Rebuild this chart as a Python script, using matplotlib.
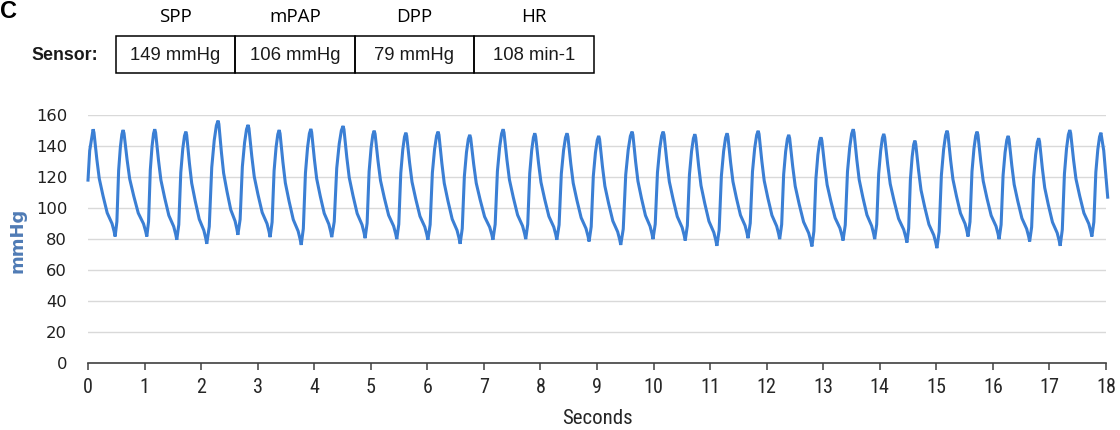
import matplotlib
matplotlib.use("Agg")
import matplotlib.pyplot as plt
from matplotlib.patches import Rectangle
from matplotlib import font_manager
import numpy as np

# ---------------- data ----------------
headers = ["SPP", "mPAP", "DPP", "HR"]
sensor_values = ["149 mmHg", "106 mmHg", "79 mmHg", "108 min-1"]
row_label = "Sensor:"
panel_label = "C"

# beat peaks (time in s, pressure in mmHg)
peak_t = [0.09, 0.62, 1.18, 1.73, 2.30, 2.83, 3.38, 3.94, 4.51, 5.06,
          5.62, 6.19, 6.75, 7.34, 7.90, 8.47, 9.03, 9.62, 10.17, 10.73,
          11.30, 11.85, 12.39, 12.96, 13.53, 14.07, 14.62, 15.19, 15.72,
          16.27, 16.81, 17.36, 17.91]
peak_v = [150.8, 150.3, 150.8, 149.3, 156.4, 153.6, 150.3, 151.0, 152.9, 149.9,
          148.6, 149.3, 147.2, 150.8, 148.2, 148.2, 146.5, 149.3, 149.3, 147.6,
          148.2, 149.8, 147.2, 145.6, 150.8, 147.8, 143.5, 149.9, 149.3,
          146.5, 145.0, 150.3, 148.6]
# beat troughs (end-diastole)
trough_t = [0.48, 1.04, 1.57, 2.10, 2.65, 3.22, 3.77, 4.31, 4.90, 5.46,
            6.01, 6.58, 7.16, 7.74, 8.29, 8.86, 9.42, 9.99, 10.56, 11.12,
            11.67, 12.23, 12.80, 13.35, 13.91, 14.48, 15.01, 15.56, 16.11,
            16.65, 17.19, 17.75]
trough_v = [81.6, 81.6, 79.5, 76.9, 82.7, 81.2, 76.2, 81.2, 80.5, 79.9,
            79.5, 76.9, 79.5, 79.9, 79.5, 78.4, 76.2, 79.9, 79.0, 75.6,
            80.5, 79.9, 75.2, 79.0, 79.9, 77.7, 74.1, 81.6, 79.9,
            78.4, 75.6, 81.6]
# start and end of the trace
start_t = [0.0, 0.03]
start_v = [118.0, 137.0]
end_t = [17.96, 18.00, 18.03]
end_v = [137.0, 120.0, 107.0]
# shape of one beat (time fraction, pressure fraction)
rise_tf = [0.22, 0.44, 0.66, 0.85]
rise_pf = [0.14, 0.62, 0.84, 0.96]
fall_tf = [0.04, 0.17, 0.28, 0.45, 0.64, 0.86, 0.95]
fall_pf = [0.97, 0.72, 0.54, 0.38, 0.22, 0.12, 0.05]

x_ticks = list(range(0, 19))
y_ticks = list(range(0, 161, 20))

# ---------------- assemble trace vertices ----------------
ts = list(start_t)
vs = list(start_v)
for i in range(len(peak_t)):
    ts.append(peak_t[i]); vs.append(peak_v[i])
    if i < len(trough_t):
        t0, v0 = peak_t[i], peak_v[i]
        t1, v1 = trough_t[i], trough_v[i]
        for tf, pf in zip(fall_tf, fall_pf):
            ts.append(t0 + tf * (t1 - t0)); vs.append(v1 + pf * (v0 - v1))
        ts.append(t1); vs.append(v1)
        t2, v2 = peak_t[i + 1], peak_v[i + 1]
        for tf, pf in zip(rise_tf, rise_pf):
            ts.append(t1 + tf * (t2 - t1)); vs.append(v1 + pf * (v2 - v1))
ts += end_t
vs += end_v

# narrow font for the time axis, if one is installed
names = {f.name for f in font_manager.fontManager.ttflist}
narrow = None
for cand in ["Liberation Sans Narrow", "Roboto Condensed", "Open Sans Condensed",
             "DejaVu Sans Condensed", "Noto Sans Condensed"]:
    if cand in names:
        narrow = cand
        break
cond_stretch = "normal"
if narrow is None:
    narrow = "DejaVu Sans"
    if any(f.name == "DejaVu Sans" and f.stretch == "condensed"
           for f in font_manager.fontManager.ttflist):
        cond_stretch = "condensed"

# ---------------- figure ----------------
fig = plt.figure(figsize=(11.2, 4.3), dpi=100)
ax = fig.add_axes([88 / 1120, 1 - 363 / 430, (1106 - 88) / 1120, (363 - 115) / 430])

ax.plot(ts, vs, color="#3b7fd4", lw=2.2, solid_joinstyle="miter", clip_on=False, zorder=3)

ax.set_xlim(0, 18)
ax.set_ylim(0, 160)
ax.set_yticks(y_ticks)
ax.set_xticks(x_ticks)
ax.grid(axis="y", color="#d9d9d9", lw=1.0)
ax.set_axisbelow(True)
for s in ["top", "right", "left"]:
    ax.spines[s].set_visible(False)
ax.spines["bottom"].set_color("#404040")
ax.spines["bottom"].set_linewidth(1.2)
ax.tick_params(axis="y", length=0, pad=15, labelsize=11.8, labelcolor="#1f1f1f")
ax.tick_params(axis="x", length=5, width=1.1, color="#404040", pad=6,
               labelsize=14.5, labelcolor="#262626")
for lab in ax.get_xticklabels():
    lab.set_family(narrow)
    lab.set_stretch(cond_stretch)

# ---------------- overlay in pixel coordinates ----------------
ov = fig.add_axes([0, 0, 1, 1], zorder=5)
ov.set_xlim(0, 1120)
ov.set_ylim(430, 0)
ov.axis("off")

ov.text(597, 419, "Seconds", fontsize=15, family=narrow, stretch=cond_stretch,
        ha="center", va="center", color="#262626")
ov.text(17, 240, "mmHg", fontsize=13, fontweight="bold", color="#4f7bb5",
        rotation=90, ha="center", va="center")

ov.text(0, 11, panel_label, fontsize=17, fontweight="bold", family="Liberation Sans",
        ha="left", va="center", color="black")

cell_edges = [116, 235, 355, 474, 594]
top, bot = 36, 73
for i in range(len(headers)):
    x0, x1 = cell_edges[i], cell_edges[i + 1]
    ov.add_patch(Rectangle((x0, top), x1 - x0, bot - top, fill=False,
                           edgecolor="black", lw=1.1))
    cx = (x0 + x1) / 2
    ov.text(cx, 17, headers[i], fontsize=13.5, family="Open Sans",
            ha="center", va="center", color="black")
    ov.text(cx, 55, sensor_values[i], fontsize=13.3, family="Liberation Sans",
            ha="center", va="center", color="#1a1a1a")
ov.text(98, 55, row_label, fontsize=12.8, fontweight="bold", family="Liberation Sans",
        ha="right", va="center", color="#1a1a1a")

fig.savefig("out.png", dpi=100)
